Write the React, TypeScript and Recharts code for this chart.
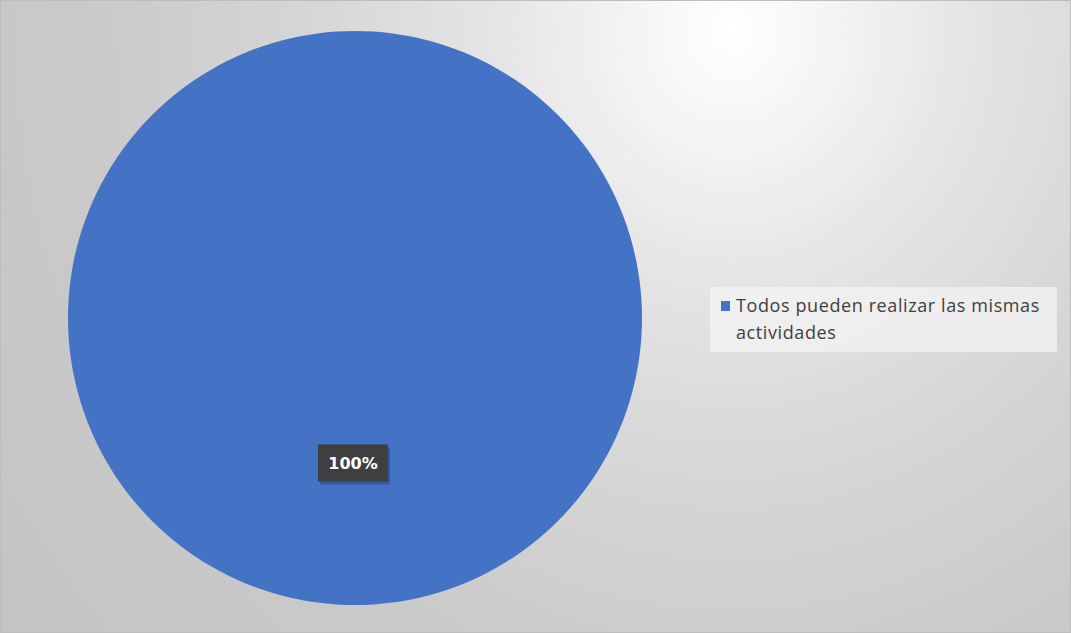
import React from "react";
import { PieChart, Pie, Cell, Legend } from "recharts";

const categories = ["Todos pueden realizar las mismas actividades"];
const values = [100];
const colors = ["#4472C4"];

const data = categories.map((name, i) => ({ name, value: values[i] }));

const RAD = Math.PI / 180;

const renderLabel = (props: any) => {
  const { cx, cy, midAngle, outerRadius, percent } = props;
  const r = outerRadius * 0.505;
  const x = cx - 2 + r * Math.cos(-midAngle * RAD);
  const y = cy + r * Math.sin(-midAngle * RAD);
  const w = 70;
  const h = 37;
  return (
    <g>
      <rect x={x - w / 2 + 2} y={y - h / 2 + 3} width={w} height={h} fill="rgba(0,0,0,0.2)" />
      <rect x={x - w / 2} y={y - h / 2} width={w} height={h} fill="#3f3f3f" />
      <text
        x={x}
        y={y + 6}
        textAnchor="middle"
        fill="#ffffff"
        fontFamily="'DejaVu Sans', sans-serif"
        fontWeight="bold"
        fontSize={16}
      >
        {`${Math.round(percent * 100)}%`}
      </text>
    </g>
  );
};

const renderLegend = () => (
  <div
    style={{
      width: 347,
      height: 65,
      background: "rgba(245,245,245,0.7)",
      boxSizing: "border-box",
      padding: "5px 0 0 11px",
      fontFamily: "'Open Sans', sans-serif",
      fontSize: 18,
      letterSpacing: "0.6px",
      lineHeight: "27px",
      color: "#404040",
      display: "flex",
      alignItems: "flex-start",
    }}
  >
    <span
      style={{
        display: "inline-block",
        width: 9,
        height: 10,
        background: colors[0],
        marginTop: 9,
        marginRight: 6,
        flex: "none",
      }}
    />
    <span style={{ width: 325, whiteSpace: "normal" }}>{categories[0]}</span>
  </div>
);

export default function App() {
  return (
    <div
      style={{
        position: "absolute",
        left: 0,
        top: 0,
        width: 1071,
        height: 633,
        boxSizing: "border-box",
        border: "1px solid #bdbdbd",
        background:
          "radial-gradient(ellipse 700px 750px at 730px 30px, #ffffff 0%, #f6f6f6 12%, #e4e4e4 35%, #d6d6d6 60%, #cacaca 90%, #c4c4c4 130%)",
      }}
    >
      <PieChart width={1069} height={631} margin={{ top: 0, right: 0, bottom: 0, left: 0 }}>
        <Pie
          data={data}
          dataKey="value"
          nameKey="name"
          cx={354}
          cy={317}
          outerRadius={287}
          startAngle={90}
          endAngle={-270}
          stroke="none"
          label={renderLabel}
          labelLine={false}
          isAnimationActive={false}
        >
          {data.map((d, i) => (
            <Cell key={d.name} fill={colors[i]} />
          ))}
        </Pie>
        <Legend
          content={renderLegend}
          wrapperStyle={{ left: 709, top: 286, width: 347, height: 65 }}
        />
      </PieChart>
    </div>
  );
}
